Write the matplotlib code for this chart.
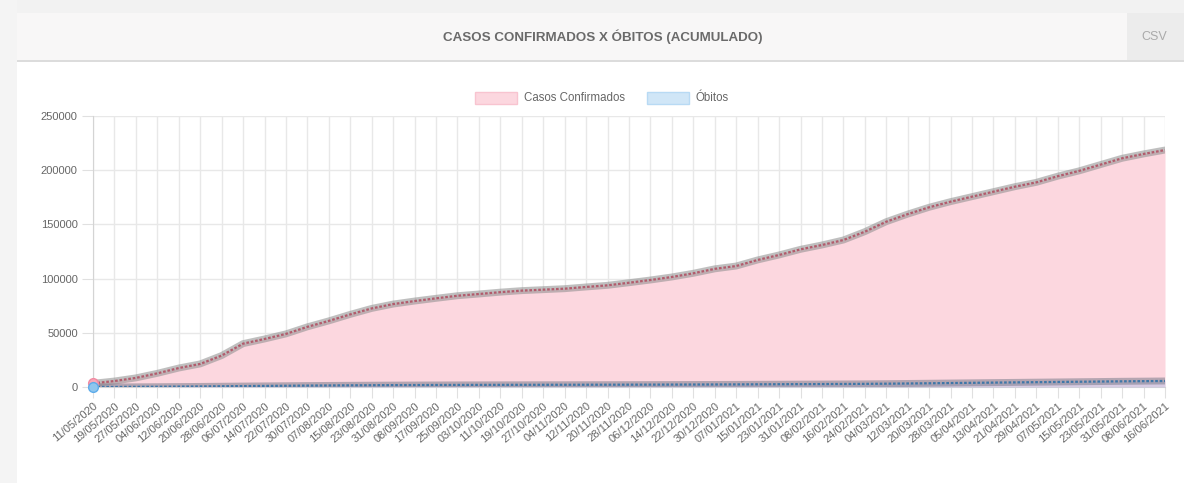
import numpy as np
import matplotlib
matplotlib.use("Agg")
import matplotlib.pyplot as plt
from matplotlib.patches import Rectangle

plt.rcParams['font.family'] = ['Liberation Sans', 'DejaVu Sans']

# tick labels (every 8th record of the daily series)
date_labels = [
    "11/05/2020", "19/05/2020", "27/05/2020", "04/06/2020", "12/06/2020", "20/06/2020",
    "28/06/2020", "06/07/2020", "14/07/2020", "22/07/2020", "30/07/2020", "07/08/2020",
    "15/08/2020", "23/08/2020", "31/08/2020", "08/09/2020", "17/09/2020", "25/09/2020",
    "03/10/2020", "11/10/2020", "19/10/2020", "27/10/2020", "04/11/2020", "12/11/2020",
    "20/11/2020", "28/11/2020", "06/12/2020", "14/12/2020", "22/12/2020", "30/12/2020",
    "07/01/2021", "15/01/2021", "23/01/2021", "31/01/2021", "08/02/2021", "16/02/2021",
    "24/02/2021", "04/03/2021", "12/03/2021", "20/03/2021", "28/03/2021", "05/04/2021",
    "13/04/2021", "21/04/2021", "29/04/2021", "07/05/2021", "15/05/2021", "23/05/2021",
    "31/05/2021", "08/06/2021", "16/06/2021",
]

# cumulative values at each labelled date
casos = [
    3400, 5500, 8400, 12600, 17500, 21300, 29000, 40000, 44300, 49000,
    55500, 61000, 67000, 72500, 76500, 79300, 81800, 84200, 85800, 87500,
    88900, 89800, 90700, 92300, 93800, 96200, 98700, 101500, 104900, 109000,
    111600, 117200, 121800, 127000, 131000, 135600, 143300, 152500, 159500, 165800,
    171000, 175600, 180200, 184800, 188800, 194500, 199400, 205200, 211000, 215000,
    218600,
]
obitos = [
    50, 80, 150, 250, 380, 520, 680, 850, 1000, 1150,
    1300, 1430, 1550, 1650, 1740, 1810, 1870, 1920, 1960, 1990,
    2020, 2050, 2070, 2100, 2130, 2160, 2200, 2240, 2290, 2340,
    2400, 2480, 2560, 2640, 2720, 2800, 2900, 3050, 3250, 3450,
    3650, 3850, 4050, 4250, 4450, 4650, 4850, 5050, 5250, 5400,
    5550,
]

W, H = 1184, 483
fig = plt.figure(figsize=(W / 100, H / 100), dpi=100)
fig.patch.set_facecolor("white")


def box(x0, y0, x1, y1, color, **kw):
    # pixel box, y measured from the top
    fig.add_artist(Rectangle((x0 / W, 1 - y1 / H), (x1 - x0) / W, (y1 - y0) / H,
                             transform=fig.transFigure, facecolor=color,
                             edgecolor=kw.pop("edgecolor", "none"), lw=kw.pop("lw", 0), **kw))


def ftext(x, y, s, **kw):
    fig.text(x / W, 1 - y / H, s, **kw)


# panel background / header
box(0, 0, W, 13, "#f2f2f2")
box(0, 0, 17, H, "#f4f4f4")
box(17, 13, W, 60, "#f8f7f7")
box(17, 60, W, 62, "#dcdcdc")
box(1127, 13, W, 60, "#ececec")
ftext(603, 37, "CASOS CONFIRMADOS X ÓBITOS (ACUMULADO)", ha="center", va="center",
      fontsize=9.6, fontweight="bold", color="#6a6a6a", fontstretch="condensed")
ftext(1154, 37, "CSV", ha="center", va="center", fontsize=9, color="#aaaaaa")

# legend
box(475, 92, 517, 104, "#fcd7df", edgecolor="#f8c4d0", lw=1)
ftext(524, 98, "Casos Confirmados", ha="left", va="center", fontsize=8.3, color="#666666")
box(647, 92, 689, 104, "#d0e6f7", edgecolor="#b8daf4", lw=1)
ftext(695, 98, "Óbitos", ha="left", va="center", fontsize=8.3, color="#666666")

# plot area
ax = fig.add_axes([93 / W, 1 - 387 / H, (1165 - 93) / W, (387 - 116) / H])
x = np.arange(len(date_labels)) * 8

ax.fill_between(x, 0, casos, color="#fcd7df", lw=0, zorder=2)
ax.fill_between(x, 0, obitos, color="#c9c8e6", alpha=0.7, lw=0, zorder=3)

ax.plot(x, casos, color="#8c8c8c", lw=5, alpha=0.55, solid_capstyle="round", zorder=4)
ax.plot(x, casos, color="#b25b6c", lw=1.6, linestyle=(0, (1.2, 0.8)), zorder=5)
ax.plot(x, obitos, color="#7c7c8c", lw=5, alpha=0.55, solid_capstyle="round", zorder=4)
ax.plot(x, obitos, color="#3f77a8", lw=1.6, linestyle=(0, (1.2, 0.8)), zorder=5)
ax.plot(x[0], casos[0], "o", ms=7, mfc="#f6a9ba", mec="#f28aa2", zorder=6, clip_on=False)
ax.plot(x[0], obitos[0], "o", ms=7, mfc="#8fc6ee", mec="#5eacea", zorder=6, clip_on=False)

ax.set_xlim(x[0], x[-1])
ax.set_ylim(0, 250000)
ax.set_yticks(np.arange(0, 250001, 50000))
ax.set_yticklabels([str(v) for v in range(0, 250001, 50000)])
ax.set_xticks(x)
ax.set_xticklabels(date_labels, rotation=40, ha="right", va="top", rotation_mode="anchor")

ax.grid(True, color="#e8e8e8", lw=1, zorder=0)
ax.set_axisbelow(True)
for side in ["top", "right"]:
    ax.spines[side].set_visible(False)
for side in ["left", "bottom"]:
    ax.spines[side].set_color("#d4d4d4")
ax.tick_params(axis="both", length=8, color="#e0e0e0", labelcolor="#666666", labelsize=8)
ax.tick_params(axis="y", pad=3)
ax.tick_params(axis="x", pad=2)

fig.savefig("out.png", dpi=100)
